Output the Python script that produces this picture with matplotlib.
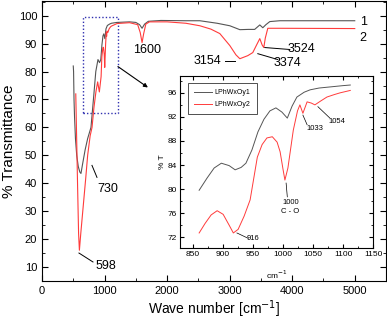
import matplotlib
matplotlib.use("Agg")
import matplotlib.pyplot as plt
from matplotlib.patches import Rectangle
from matplotlib.ticker import MultipleLocator

plt.rcParams['font.family'] = ['Liberation Sans', 'DejaVu Sans']

# main spectrum, sample 1 (gray)
wn1 = [500, 505, 512, 520, 535, 555, 580, 605, 623, 650, 690, 730, 783, 830, 860,
       895, 920, 940, 958, 975, 988, 1005, 1023, 1045, 1080, 1110, 1200, 1400,
       1500, 1560, 1600, 1640, 1700, 1900, 2300, 2524, 2800, 3003, 3163, 3300,
       3400, 3482, 3530, 3580, 3642, 3800, 4200, 5000]
t1 = [82, 80, 70, 64, 56, 50, 46, 44, 43.5, 47, 52, 56, 60, 72, 80,
      84.3, 83.2, 84.3, 89.5, 92.8, 93.5, 91.8, 95.3, 96.5, 97, 97.3, 97.6, 97.8,
      97.6, 96.8, 95.5, 97, 98, 98.3, 98.2, 98.2, 97.3, 96.4, 95, 95.1,
      95.1, 96.7, 95.7, 96.8, 97.9, 98.2, 98.2, 98.2]

# main spectrum, sample 2 (red)
wn2 = [540, 555, 570, 585, 598, 620, 660, 700, 730, 770, 800, 830, 862, 890,
       917, 945, 957, 973, 982, 995, 1003, 1017, 1028, 1033, 1040, 1053, 1073,
       1095, 1112, 1200, 1400, 1530, 1570, 1600, 1625, 1660, 1720, 2000, 2300,
       2524, 2700, 2843, 3003, 3100, 3163, 3290, 3370, 3430, 3482, 3520, 3546,
       3570, 3610, 3800, 5000]
t2 = [72, 55, 38, 22, 16, 22, 32, 42, 50, 57, 60, 67, 72.7, 76.3,
      72.7, 78.2, 85.3, 88.5, 88.7, 86.2, 81.5, 89.8, 94, 92.6, 94.5, 94, 95.3,
      96, 96.3, 97.2, 97.5, 96.8, 94, 90.4, 93.5, 97, 97.8, 97.8, 97.3,
      96.4, 95.2, 93.6, 89.3, 86, 84.6, 85.7, 86.8, 89.5, 91.8, 89.5, 88.6,
      92, 95.5, 95.5, 95.4]

# inset (zoom 850-1150 cm-1)
iwn1 = [860, 873, 885, 897, 910, 920, 930, 938, 948, 958, 968, 978, 988, 998,
        1007, 1015, 1023, 1035, 1045, 1060, 1080, 1100, 1112]
it1 = [79.8, 81.8, 83.5, 84.3, 83.9, 83.2, 83.6, 84.3, 86.5, 89.5, 91.6, 93, 93.5,
       92.8, 91.8, 93.8, 95.3, 96.1, 96.5, 96.8, 97, 97.2, 97.3]
iwn2 = [860, 870, 880, 890, 900, 910, 917, 925, 935, 945, 957, 965, 973, 982,
        990, 995, 1000, 1003, 1008, 1017, 1024, 1028, 1033, 1040, 1047, 1053,
        1062, 1073, 1085, 1095, 1112]
it2 = [72.7, 74.3, 75.7, 76.4, 75.8, 74, 72.7, 73.3, 75.5, 78.2, 85.3, 87.4, 88.5,
       88.7, 87.8, 86.2, 83.2, 81.5, 83.5, 89.8, 93, 94, 92.6, 94.5, 94.3, 94,
       94.6, 95.3, 95.7, 96, 96.4]

gray = '#555555'
red = '#ff3b3b'

fig = plt.figure(figsize=(3.87, 3.2), dpi=100)
ax = fig.add_axes([0.1085, 0.122, 0.889, 0.876])
ax.plot(wn1, t1, color=gray, lw=0.8)
ax.plot(wn2, t2, color=red, lw=0.8)
ax.set_xlim(0, 5500)
ax.set_ylim(5, 105.4)
ax.xaxis.set_major_locator(MultipleLocator(1000))
ax.xaxis.set_minor_locator(MultipleLocator(500))
ax.yaxis.set_minor_locator(MultipleLocator(5))
ax.set_yticks(range(10, 101, 10))
ax.tick_params(which='both', direction='in', top=True, right=True, labelsize=8)
ax.tick_params(which='major', length=4)
ax.tick_params(which='minor', length=2)
ax.set_xlabel('Wave number [cm$^{-1}$]', fontsize=10, labelpad=2)
ax.set_ylabel('% Transmittance', fontsize=11, labelpad=2)

# zoom box and arrow
ax.add_patch(Rectangle((650, 65.1), 570, 34.5, fill=False, ec='#3030b0',
                       ls=(0, (1, 1.5)), lw=1))
ax.annotate('', xy=(1693, 74.3), xytext=(1214, 81.8),
            arrowprops=dict(arrowstyle='-|>', color='k', lw=0.8,
                            mutation_scale=6, shrinkA=0, shrinkB=0))

fs = 9
ax.text(1679, 87.9, '1600', fontsize=fs, ha='center', va='center')
ax.text(2638, 83.9, '3154', fontsize=fs, ha='center', va='center')
ax.plot([2925, 3085], [83.9, 83.9], color='k', lw=0.7)
ax.text(3930, 83.2, '3374', fontsize=fs, ha='center', va='center')
ax.plot([3450, 3770], [86.4, 84.3], color='k', lw=0.7)
ax.text(4153, 88.2, '3524', fontsize=fs, ha='center', va='center')
ax.plot([3562, 3962], [88.6, 87.9], color='k', lw=0.7)
ax.text(5080, 97.6, '1', fontsize=fs, ha='left', va='center')
ax.text(5080, 91.9, '2', fontsize=fs, ha='left', va='center')
ax.text(1054, 37.9, '730', fontsize=fs, ha='center', va='center')
ax.plot([799, 879], [46.4, 42.1], color='k', lw=0.7)
ax.text(1022, 10.2, '598', fontsize=fs, ha='center', va='center')
ax.plot([591, 815], [15, 11.8], color='k', lw=0.7)

# inset
ax2 = fig.add_axes([0.465, 0.225, 0.499, 0.5375])
ax2.plot(iwn1, it1, color=gray, lw=0.7, label='LPhWxOy1')
ax2.plot(iwn2, it2, color=red, lw=0.7, label='LPhWxOy2')
ax2.set_xlim(828, 1150)
ax2.set_ylim(70.2, 98.8)
ax2.xaxis.set_major_locator(MultipleLocator(50))
ax2.xaxis.set_minor_locator(MultipleLocator(25))
ax2.yaxis.set_major_locator(MultipleLocator(4))
ax2.yaxis.set_minor_locator(MultipleLocator(2))
ax2.tick_params(which='both', direction='in', top=True, right=True, labelsize=6,
                pad=2)
ax2.tick_params(which='major', length=3)
ax2.tick_params(which='minor', length=1.5)
ax2.set_xlabel('cm$^{-1}$', fontsize=6, labelpad=8)
ax2.set_ylabel('% T', fontsize=6, labelpad=1)
leg = ax2.legend(loc='upper left', fontsize=5, frameon=True, fancybox=False,
                 edgecolor='k', handlelength=2.6, borderpad=0.9,
                 labelspacing=0.7, handletextpad=0.4, borderaxespad=0,
                 bbox_to_anchor=(0.04, 0.96))
leg.get_frame().set_linewidth(0.6)

ifs = 5.5
ax2.text(1053, 90, '1033', fontsize=ifs, ha='center', va='center')
ax2.plot([1033, 1040], [92.3, 90.7], color='k', lw=0.5)
ax2.text(1090, 91.2, '1054', fontsize=ifs, ha='center', va='center')
ax2.plot([1058, 1078], [93.7, 91.8], color='k', lw=0.5)
ax2.text(1012, 77.8, '1000', fontsize=ifs, ha='center', va='center')
ax2.text(1012, 76.2, 'C - O', fontsize=ifs, ha='center', va='center')
ax2.plot([1005, 1007], [81, 78.7], color='k', lw=0.5)
ax2.text(950, 71.8, '916', fontsize=ifs, ha='center', va='center')
ax2.plot([923, 942], [72.7, 71.8], color='k', lw=0.5)

fig.savefig('out.png', dpi=100)
